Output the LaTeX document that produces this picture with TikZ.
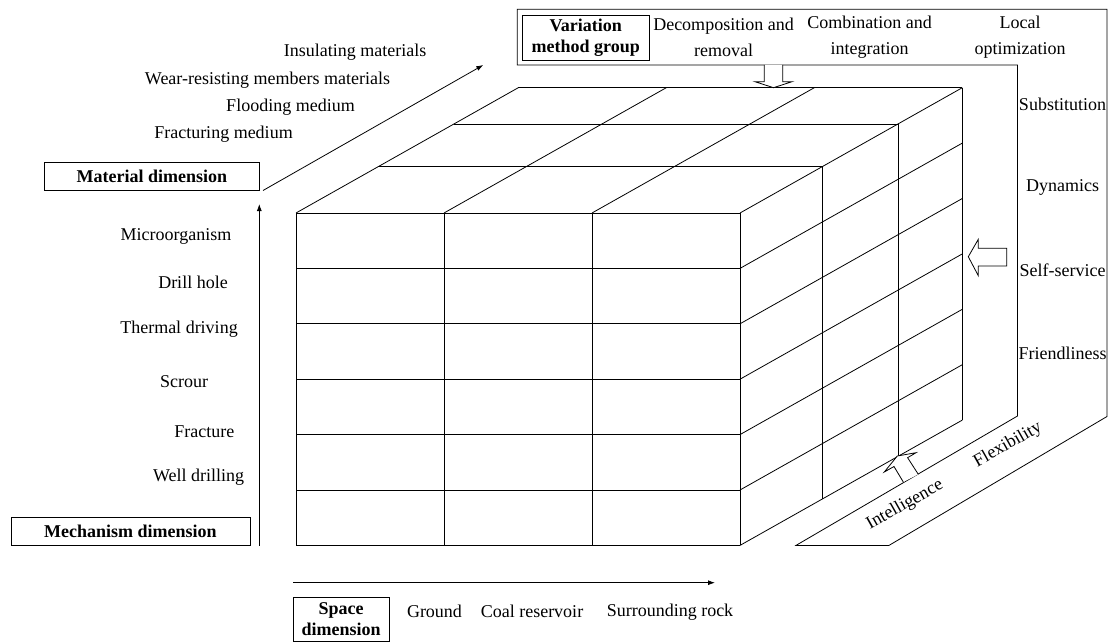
\documentclass[tikz,border=0pt]{standalone}
\usepackage{fontspec}
\setmainfont{Liberation Serif}
\usetikzlibrary{arrows.meta}
\begin{document}
\begin{tikzpicture}[x=1pt,y=-1pt,
  txt/.style={inner sep=0pt,font=\fontsize{18}{26}\selectfont},
  dimbox/.style={draw,line width=0.9pt,inner sep=0pt,font=\fontsize{18}{21.5}\selectfont\bfseries,align=center},
  ln/.style={line width=0.8pt},
  axarrow/.style={line width=0.8pt,-{Latex[length=7pt,width=5pt]}},
  hollow/.style={line width=0.8pt,fill=white,line join=miter}]
\useasboundingbox (0,0) rectangle (1112,642);
% ---------------- cube ----------------
\def\dxA{82.3}\def\dyA{46.3}
\def\dxB{158}\def\dyB{89}
\def\dxC{222.3}\def\dyC{125.3}
% front face grid
\foreach \yy in {213,268.4,323.8,379.2,434.6,490,545.4}
  \draw[ln] (296,\yy) -- (740,\yy);
\foreach \xx in {296,444,592,740}
  \draw[ln] (\xx,213) -- (\xx,545.4);
% top face
\foreach \dx/\dy in {\dxA/\dyA,\dxB/\dyB,\dxC/\dyC}
  \draw[ln] (296+\dx,213-\dy) -- (740+\dx,213-\dy);
\foreach \xx in {296,444,592,740}
  \draw[ln] (\xx,213) -- (\xx+\dxC,213-\dyC);
% right face
\foreach \dx/\dy in {\dxA/\dyA,\dxB/\dyB,\dxC/\dyC}
  \draw[ln] (740+\dx,213-\dy) -- (740+\dx,545.4-\dy);
\foreach \yy in {268.4,323.8,379.2,434.6,490,545.4}
  \draw[ln] (740,\yy) -- (740+\dxC,\yy-\dyC);
% ---------------- variation frame ----------------
\draw[ln,line join=miter] (517.3,9.3) -- (1107,9.3) -- (1107,416.5) -- (889,545.4) -- (796,545.4)
  -- (1017.5,416) -- (1017.5,65) -- (517.3,65) -- cycle;
\node[dimbox,minimum width=126.7pt,minimum height=45pt] (vbox) at (585.7,37.5)
  {Variation\\method group};
\node[txt,align=center] (decomp) at (723.5,37) {Decomposition and\\removal};
\node[txt,align=center] (combi) at (869.5,37) {Combination and\\integration};
\node[txt,align=center] (local) at (1020,37) {Local\\optimization};
\node[txt] (subst) at (1062.5,104) {Substitution};
\node[txt] (dyn) at (1062.5,187.7) {Dynamics};
\node[txt] (selfs) at (1062.5,270.7) {Self-service};
\node[txt] (friend) at (1062.5,353.3) {Friendliness};
\node[txt,rotate=29.4] (intel) at (905,505) {Intelligence};
\node[txt,rotate=29.4] (flex) at (1008,445) {Flexibility};
% hollow arrows
\draw[hollow] (764.3,65) -- (764.3,81.7) -- (755,81.7) -- (773.5,87.7) -- (792,81.7)
  -- (782.7,81.7) -- (782.7,65);
\draw[hollow] (1006.7,248.3) -- (978.3,248.3) -- (978.3,239.3) -- (968.3,256.7)
  -- (978.3,275.7) -- (978.3,266) -- (1006.7,266) -- cycle;
\draw[hollow] (903.3,482) -- (894,466.5) -- (884.3,472) -- (897.3,456) -- (916,452.7)
  -- (907.6,457.7) -- (918.3,474.3);
% ---------------- material dimension ----------------
\node[dimbox,minimum width=215pt,minimum height=27.7pt] (matbox) at (151.8,176.2) {Material dimension};
\coordinate (matstart) at (263,190.5);
\coordinate (matend) at (483.3,65);
\draw[axarrow] (matstart) -- (matend);
\node[txt] (m1) at (355,52) {Insulating materials};
\node[txt] (m2) at (267.5,80) {Wear-resisting members materials};
\node[txt] (m3) at (290.5,107.3) {Flooding medium};
\node[txt] (m4) at (223.5,134) {Fracturing medium};
% ---------------- mechanism dimension ----------------
\node[dimbox,minimum width=239pt,minimum height=28pt] (mechbox) at (130.5,531.7) {Mechanism dimension};
\coordinate (mechstart) at (259.3,545.7);
\coordinate (mechend) at (259.3,204);
\draw[axarrow] (mechstart) -- (mechend);
\node[txt] (k1) at (176,236) {Microorganism};
\node[txt] (k2) at (193,282) {Drill hole};
\node[txt] (k3) at (179,329) {Thermal driving};
\node[txt] (k4) at (184,382) {Scrour};
\node[txt] (k5) at (204.3,432) {Fracture};
\node[txt] (k6) at (198.7,477.3) {Well drilling};
% ---------------- space dimension ----------------
\coordinate (spstart) at (293.3,582.7);
\coordinate (spend) at (715,582.7);
\draw[axarrow] (spstart) -- (spend);
\node[dimbox,minimum width=95.7pt,minimum height=44pt] (spbox) at (341.2,619.3) {Space\\dimension};
\node[txt] (s1) at (434.5,611.7) {Ground};
\node[txt] (s2) at (532,611.7) {Coal reservoir};
\node[txt] (s3) at (670,611.7) {Surrounding rock};
\end{tikzpicture}
\end{document}
